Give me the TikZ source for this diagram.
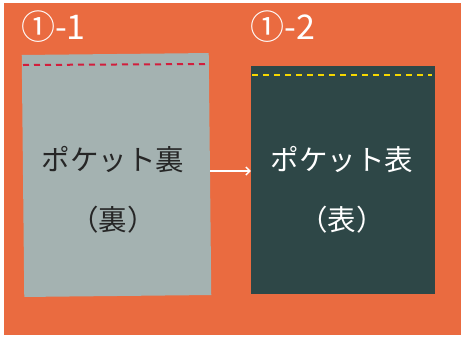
\documentclass[tikz,border=0pt]{standalone}
\usepackage{fontspec}
\newfontfamily\jp{Noto Sans CJK JP}
\usetikzlibrary{arrows.meta}
\definecolor{bgor}{RGB}{234,107,64}
\definecolor{lpan}{RGB}{164,178,177}
\definecolor{rpan}{RGB}{46,71,71}
\definecolor{redd}{RGB}{210,30,60}
\definecolor{yeld}{RGB}{245,215,0}
\tikzset{
  panel/.style={draw=none,minimum width=#1,inner sep=0pt},
  bigtxt/.style={font=\jp\fontsize{28.5}{31}\selectfont,inner sep=0pt},
  lbl/.style={font=\jp\fontsize{34}{36}\selectfont,text=white,inner sep=0pt,anchor=west},
  seam/.style={line width=2pt,dash pattern=on 6pt off 5pt},
  arr/.style={draw=white,line width=1.4pt,-{Straight Barb[length=4pt,width=8pt]}}
}
\begin{document}
\begin{tikzpicture}[x=1pt,y=-1pt]
\useasboundingbox (0,0) rectangle (463,338);
\fill[white] (0,0) rectangle (463,338);
\fill[bgor] (4,3) rectangle (461,335);
% left panel
\node[panel=187pt,minimum height=242pt,fill=lpan,rotate=0.6] (lp) at (116.5,175) {};
\draw[redd,seam] (23,65) -- (208,64);
% right panel
\node[panel=184pt,minimum height=228pt,fill=rpan] (rp) at (343,180) {};
\draw[yeld,seam] (252,75) -- (432,75);
% labels
\node[lbl] (l1) at (21,27) {①-1};
\node[lbl] (l2) at (250,27) {①-2};
% texts
\node[bigtxt,text=black!85] (t1) at (113,160) {ポケット裏};
\node[bigtxt,text=black!85] (t2) at (113,220) {（裏）};
\node[bigtxt,text=white] (t3) at (342,160) {ポケット表};
\node[bigtxt,text=white] (t4) at (342,220) {（表）};
% arrow
\draw[arr] (lp.east |- 0,171) -- (rp.west |- 0,171);
\end{tikzpicture}
\end{document}
